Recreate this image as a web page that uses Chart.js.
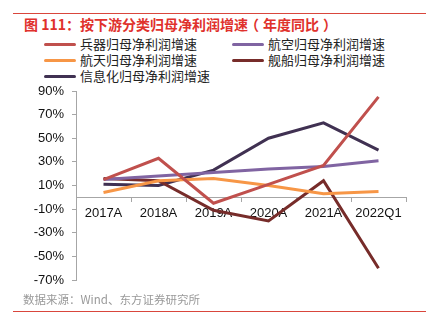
<!DOCTYPE html>
<html lang="zh-CN">
<head>
<meta charset="utf-8">
<script src="https://cdn.jsdelivr.net/npm/chart.js@4.4.0/dist/chart.umd.min.js"></script>
<style>
  body { margin: 0; background: #fff; font-family: "Liberation Sans", "Noto Sans CJK SC", sans-serif; }
  #wrap { position: relative; width: 430px; height: 326px; overflow: hidden; }
  #myChart { position: absolute; left: 0; top: 0; }
  .rule { position: absolute; left: 13px; width: 413px; height: 1px; background: #d9463c; }
  #titulo { position: absolute; left: 24px; top: 14px; font-size: 14px; font-weight: bold; color: #e0312c; white-space: nowrap;
            font-family: "Noto Sans CJK SC", sans-serif; }
  #titulo .po { margin-left: -3px; margin-right: 4px; }
  #titulo .pc { margin-left: 4px; }
  #leyenda { position: absolute; left: 44px; top: 37px; }
  .item { position: absolute; white-space: nowrap; font-size: 13px; color: #222; line-height: 16px; }
  .item i { display: inline-block; width: 32px; height: 3px; border-radius: 2px; vertical-align: middle; margin-right: 4px; position: relative; top: -1px; }
  #fuente { position: absolute; left: 23px; top: 291px; font-size: 11.5px; color: #999; white-space: nowrap;
            font-family: "Noto Sans CJK SC", sans-serif; }
</style>
</head>
<body>
<div id="wrap">
  <div class="rule" style="top:13px"></div>
  <div id="titulo">图 111：按下游分类归母净利润增速<span class="po">（</span>年度同比<span class="pc">）</span></div>
  <div id="leyenda"></div>
  <canvas id="myChart" width="430" height="326"></canvas>
  <div id="fuente">数据来源：Wind、东方证券研究所</div>
  <div class="rule" style="top:311px"></div>
</div>
<script>
// Categorías y series (valores en %)
const categorias = ['2017A', '2018A', '2019A', '2020A', '2021A', '2022Q1'];
const bingqi = [15, 33, -5, 11, 27, 85];       // 兵器
const hangkong = [15, 18, 21, 24, 26, 31];     // 航空
const hangtian = [4, 14, 16, 10, 3, 5];        // 航天
const jianchuan = [16, 14, -11, -20, 14, -60]; // 舰船
const xinxihua = [11, 10, 23, 50, 63, 40];     // 信息化
const ticksY = [-70, -50, -30, -10, 10, 30, 50, 70, 90];

const gris = '#a6a6a6';

function serie(label, data, color) {
    return {
        label: label,
        data: data,
        borderColor: color,
        backgroundColor: color,
        borderWidth: 3,
        pointRadius: 0,
        tension: 0
    };
}

const datasets = [
    serie('兵器归母净利润增速', bingqi, '#c0504d'),
    serie('航空归母净利润增速', hangkong, '#8064a2'),
    serie('航天归母净利润增速', hangtian, '#f79646'),
    serie('舰船归母净利润增速', jianchuan, '#772c2a'),
    serie('信息化归母净利润增速', xinxihua, '#403152')
];

// Leyenda en dos columnas
const leyenda = document.getElementById('leyenda');
datasets.forEach(function (ds, i) {
    const el = document.createElement('div');
    el.className = 'item';
    el.style.left = (i % 2) * 188 + 'px';
    el.style.top = Math.floor(i / 2) * 16 + 'px';
    el.innerHTML = '<i style="background:' + ds.borderColor + '"></i>' + ds.label;
    leyenda.appendChild(el);
});

const ctx = document.getElementById('myChart').getContext('2d');
const myChart = new Chart(ctx, {
    type: 'line',
    data: {
        labels: categorias,
        datasets: datasets
    },
    options: {
        responsive: false,
        animation: false,
        layout: {
            padding: { left: 0, right: 24, top: 91, bottom: 46 }
        },
        plugins: {
            legend: { display: false },
            tooltip: { enabled: false }
        },
        scales: {
            x: {
                type: 'category',
                position: { y: 0 },
                offset: true,
                grid: {
                    offset: true,
                    drawOnChartArea: false,
                    drawTicks: true,
                    tickLength: 4,
                    color: gris
                },
                border: { display: true, color: gris, width: 1 },
                ticks: {
                    color: '#111',
                    padding: 4,
                    maxRotation: 0,
                    font: { size: 13, family: '"Liberation Sans", Arial, sans-serif' }
                }
            },
            y: {
                min: -70,
                max: 90,
                afterFit: function (scale) { scale.width = 76; },
                afterBuildTicks: function (scale) {
                    scale.ticks = ticksY.map(function (v) { return { value: v }; });
                },
                grid: {
                    drawOnChartArea: false,
                    drawTicks: true,
                    tickLength: 4,
                    color: gris
                },
                border: { display: true, color: gris, width: 1 },
                ticks: {
                    color: '#111',
                    padding: 8,
                    font: { size: 13, family: '"Liberation Sans", Arial, sans-serif' },
                    callback: function (v) { return v + '%'; }
                }
            }
        }
    }
});
</script>
</body>
</html>
